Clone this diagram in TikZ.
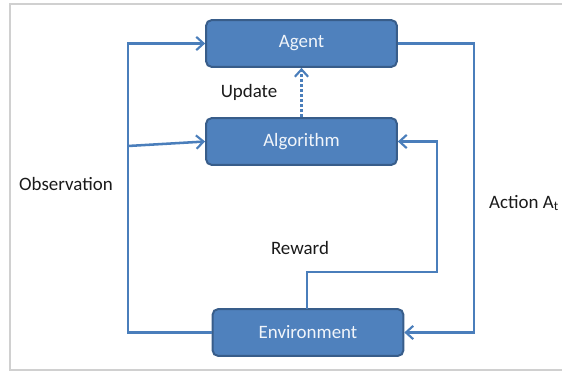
\documentclass[tikz,border=0pt]{standalone}
\usepackage{fontspec}
\setmainfont{Carlito}
\usetikzlibrary{arrows.meta}
\definecolor{boxfill}{HTML}{4F81BD}
\definecolor{boxedge}{HTML}{385D8A}
\definecolor{wire}{HTML}{4A7EBB}
\definecolor{frame}{HTML}{D0D0D0}
\definecolor{labeltext}{HTML}{1A1A1A}
\tikzset{
  block/.style={draw=boxedge, line width=1.5pt, fill=boxfill, rounded corners=4pt,
    minimum width=143pt, minimum height=35pt, text=white!92!boxfill,
    font=\fontsize{14.2}{16}\selectfont, inner sep=0pt},
  wirestyle/.style={draw=wire, line width=1.9pt},
  flow/.style={wirestyle, -{Straight Barb[length=5.5pt,width=10pt,line width=1.6pt]}},
  tag/.style={text=labeltext, font=\fontsize{14.2}{16}\selectfont, inner sep=0pt}
}
\begin{document}
\begin{tikzpicture}[x=0.75pt, y=-0.75pt]
  \useasboundingbox (0,0) rectangle (562,371);
  % outer frame
  \draw[frame, line width=1pt] (562,4) -- (10,4) -- (10,370) -- (562,370);

  % blocks
  \node[block] (agent) at (301.5,43.5) {Agent};
  \node[block] (algo)  at (301.5,141.5) {Algorithm};
  \node[block] (env)   at (308,332.5) {Environment};

  % turning points
  \coordinate (obsBot) at (128,332.5);
  \coordinate (obsTop) at (128,43.5);
  \coordinate (obsMid) at (128,146);
  \coordinate (actTop) at (474,43.5);
  \coordinate (actBot) at (474,332.5);
  \coordinate (rewA) at (env.north -| 307,0);
  \coordinate (rewB) at (307,272);
  \coordinate (rewC) at (437,272);
  \coordinate (rewD) at (437,141.5);

  % observation path
  \draw[flow] (env.west) -- (obsBot) -- (obsTop) -- (agent.west);
  \draw[flow] (obsMid) -- (algo.west);

  % action path
  \draw[flow] (agent.east) -- (actTop) -- (actBot) -- (env.east);

  % reward path
  \draw[flow] (307,309) -- (rewB) -- (rewC) -- (rewD) -- (algo.east);

  % update
  \draw[flow, dash pattern=on 2.2pt off 1.6pt, line width=1.6pt] (algo.north) -- (agent.south);

  % labels
  \node[tag] (update) at (249,92) {Update};
  \node[tag] (obs) at (66,184) {Observation};
  \node[tag] (act) at (524,203) {Action A\textsubscript{t}};
  \node[tag] (rew) at (300,248) {Reward};
\end{tikzpicture}
\end{document}
